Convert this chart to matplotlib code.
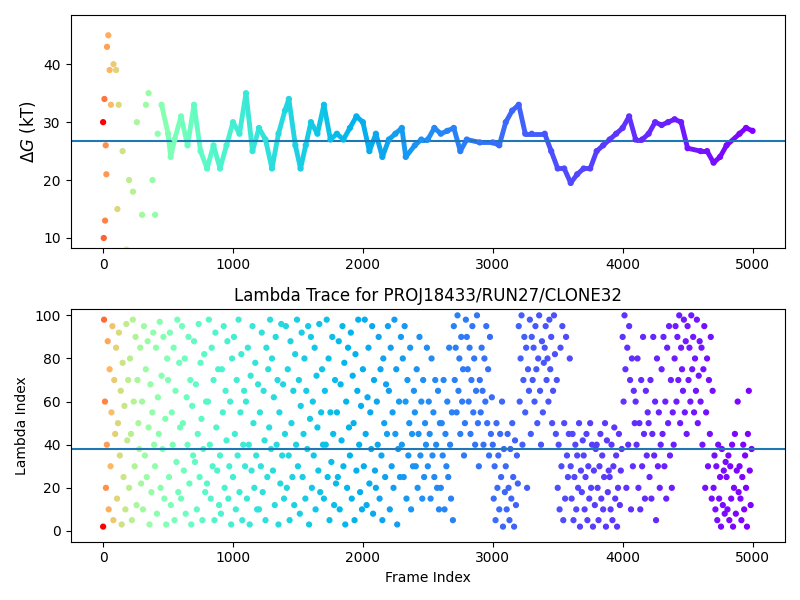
import numpy as np
import matplotlib
matplotlib.use("Agg")
import matplotlib.pyplot as plt
from matplotlib.collections import LineCollection
from matplotlib.colors import PowerNorm

# Free energy trace (frame, dG in kT)
dg_frames = [0,5,10,15,20,25,30,40,50,60,80,100,110,120,150,180,200,230,260,300,330,350,380,400,420,450,500,520,550,600,650,700,750,800,850,900,950,1000,1050,1100,1150,1200,1250,1300,1350,1400,1430,1480,1520,1560,1600,1650,1700,1750,1800,1850,1900,1950,2000,2050,2100,2150,2200,2250,2300,2330,2400,2450,2500,2550,2600,2650,2700,2750,2800,2900,3000,3050,3100,3150,3200,3250,3300,3400,3450,3500,3550,3600,3650,3700,3750,3800,3850,3900,3950,4000,4050,4100,4150,4200,4250,4300,4350,4400,4450,4500,4600,4650,4700,4750,4800,4900,4950,5000]
dg_values = [30,10,34,13,26,21,43,45,39,33,40,39,15,33,25,8,20,18,30,14,33,35,20,14,28,33,28,24,27,31,26,33,25,22,26,22,26,30,28,35,25,29,27,22,28,32,34,26,22,26,30,28,33,27,28,27,29,31,30,25,28,24,27,28,29,24,26,27,27,29,28,28.5,29,25,27,26.5,26.5,26,30,32,33,28,28,28,25,22,22,19.5,21,22,22,25,26,27,28,29,31,27,27,28,30,29.5,30,30.5,30,25.5,25,25,23,24,26,28,29,28.5]
dg_mean = 26.8

# Lambda index samples, 100-frame blocks
lam_blocks = [
 [2,98,60,20,40,88,10,75,30,55,95,5,70,45],
 [85,15,50,92,35,65,3,78,25,58,10,96,42,70],
 [20,80,45,5,98,60,30,90,12,70,50,38,85,22],
 [60,10,95,35,75,25,88,48,3,68,18,55,92,40],
 [30,85,8,62,45,97,20,72,38,90,15,52,3,80],
 [70,25,92,12,55,40,85,5,65,32,98,18,78,48],
 [15,95,50,28,80,8,62,40,90,22,70,3,58,35],
 [88,32,68,10,45,96,25,78,52,5,38,82,18,60],
 [22,60,98,40,15,85,30,70,5,92,48,28,75,12],
 [35,8,75,55,95,20,65,42,88,15,30,60,3,80],
 [25,90,45,10,70,35,98,18,55,82,5,40,65,30],
 [60,15,85,40,3,72,28,95,50,20,78,35,10,68],
 [10,55,30,92,18,65,42,5,85,25,75,48,98,38],
 [80,28,62,12,90,40,70,3,55,22,96,35,68,15],
 [45,95,20,75,35,5,88,50,25,65,12,82,40,98],
 [30,70,8,58,92,25,45,80,15,65,38,95,3,52],
 [90,20,60,35,85,10,72,48,28,96,18,55,75,40],
 [15,65,40,98,25,80,5,55,32,90,45,12,70,22],
 [55,25,88,10,68,42,95,30,78,3,60,20,85,48],
 [35,92,15,72,50,5,82,28,65,98,40,18,58,10],
 [75,30,98,45,12,62,85,22,55,38,95,8,70,28],
 [20,60,40,90,15,75,35,5,80,50,25,68,45,95],
 [65,10,85,30,55,20,98,45,75,3,38,60,25,90],
 [40,80,25,95,60,15,70,35,50,85,10,45,30,65],
 [55,30,75,20,45,90,35,60,15,70,25,50,40,85],
 [30,60,45,15,80,35,55,25,70,40,20,65,10,50],
 [20,50,35,70,10,45,30,60,25,85,40,15,55,5],
 [95,70,85,55,100,65,80,45,90,60,75,35,50,98],
 [90,75,60,85,45,70,95,55,80,40,65,100,50,30],
 [70,55,85,65,40,80,60,95,50,75,35,90,45,62],
 [40,15,30,5,50,20,35,10,45,25,60,2,38,18],
 [30,10,45,20,5,38,15,50,25,2,42,12,35,22],
 [95,60,80,100,40,70,90,55,85,20,75,65,98,45],
 [90,70,85,60,95,75,50,80,100,65,40,88,55,78],
 [85,95,70,80,60,98,75,90,50,65,100,82,45,70],
 [20,40,10,85,30,95,5,50,15,90,35,25,45,80],
 [30,15,45,5,25,40,10,35,20,50,2,28,18,42],
 [35,10,25,45,5,30,15,50,20,40,2,28,12,38],
 [40,20,5,30,45,15,35,10,25,50,2,42,18,28],
 [25,10,40,5,30,48,15,35,2,20,45,12,28,38],
 [90,60,100,75,20,85,40,95,70,10,80,30,65,50],
 [60,40,80,20,50,10,70,30,90,45,15,65,35,55],
 [50,25,70,15,45,90,35,60,5,80,30,55,20,40],
 [75,45,90,30,60,15,85,50,95,35,70,20,55,40],
 [80,95,60,90,70,100,50,85,75,65,98,55,88,45],
 [95,70,85,60,100,75,90,55,80,65,98,50,72,88],
 [60,85,40,75,95,20,55,80,30,70,45,90,15,65],
 [20,35,10,30,5,40,15,25,2,38,12,28,8,32],
 [25,10,35,5,30,15,40,2,20,45,8,28,60,18],
 [30,15,5,25,40,10,35,20,2,45,65,28,12,38],
]
lam_mean = 38

fig, (ax1, ax2) = plt.subplots(2, 1, figsize=(8, 6), dpi=100)
cmap = plt.get_cmap("rainbow_r")
norm = PowerNorm(gamma=0.3, vmin=0, vmax=5000)

x = np.array(dg_frames, float); y = np.array(dg_values, float)
m = x >= 450
pts = np.column_stack([x[m], y[m]]).reshape(-1, 1, 2)
segs = np.concatenate([pts[:-1], pts[1:]], axis=1)
lc = LineCollection(segs, colors=cmap(norm(x[m][:-1])), linewidths=3.5)
ax1.add_collection(lc)
ax1.scatter(x, y, c=x, cmap=cmap, norm=norm, s=12, zorder=3)
ax1.axhline(dg_mean, color="#1f77b4")
ax1.set_xlim(-250, 5250)
ax1.set_ylim(8.3, 48.5)
ax1.set_ylabel(r"$\Delta G$ (kT)", fontsize=12)

lx, ly = [], []
for b, vals in enumerate(lam_blocks):
    n = len(vals)
    for i, v in enumerate(vals):
        lx.append(b * 100 + i * 100 / n)
        ly.append(v)
lx = np.array(lx)
ax2.scatter(lx, ly, c=lx, cmap=cmap, norm=norm, s=12)
ax2.axhline(lam_mean, color="#1f77b4")
ax2.set_xlim(-250, 5250)
ax2.set_ylim(-5, 103)
ax2.set_ylabel("Lambda Index")
ax2.set_xlabel("Frame Index")
ax2.set_title("Lambda Trace for PROJ18433/RUN27/CLONE32")

fig.tight_layout()
fig.savefig("out.png")
